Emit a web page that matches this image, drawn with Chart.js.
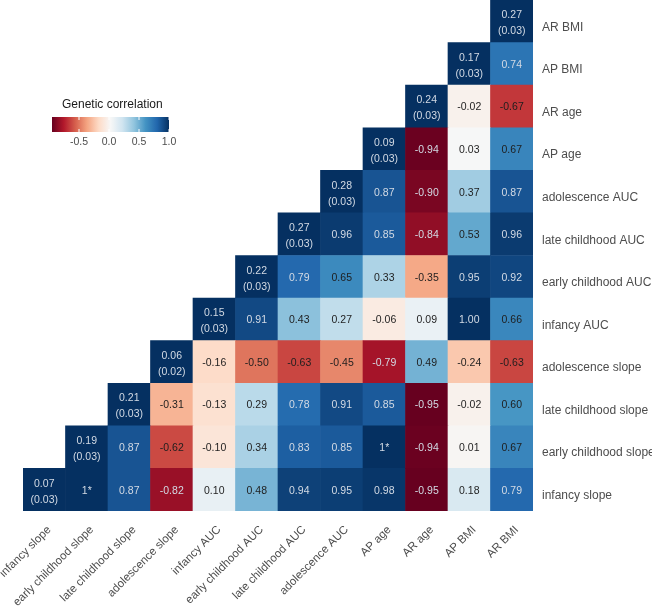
<!DOCTYPE html>
<html>
<head>
<meta charset="utf-8">
<script src="https://cdn.jsdelivr.net/npm/chart.js@4.4.1/dist/chart.umd.min.js"></script>
<style>
  html, body { margin: 0; background: #fff; }
  #wrap { width: 652px; height: 612px; }
</style>
</head>
<body>
<div id="wrap"><canvas id="rgChart"></canvas></div>
<script>
//Traits, bottom row / left column first
const traits = ['infancy slope', 'early childhood slope', 'late childhood slope', 'adolescence slope',
    'infancy AUC', 'early childhood AUC', 'late childhood AUC', 'adolescence AUC',
    'AP age', 'AR age', 'AP BMI', 'AR BMI'];

//SNP heritability (diagonal) and its SE
const h2 = [0.07, 0.19, 0.21, 0.06, 0.15, 0.22, 0.27, 0.28, 0.09, 0.24, 0.17, 0.27];
const h2_se = [0.03, 0.03, 0.03, 0.02, 0.03, 0.03, 0.03, 0.03, 0.03, 0.03, 0.03, 0.03];

//Genetic correlations, one array per row (columns in trait order)
const rg_infancySlope = [null, 1, 0.87, -0.82, 0.10, 0.48, 0.94, 0.95, 0.98, -0.95, 0.18, 0.79];
const rg_earlySlope = [null, null, 0.87, -0.62, -0.10, 0.34, 0.83, 0.85, 1, -0.94, 0.01, 0.67];
const rg_lateSlope = [null, null, null, -0.31, -0.13, 0.29, 0.78, 0.91, 0.85, -0.95, -0.02, 0.60];
const rg_adolSlope = [null, null, null, null, -0.16, -0.50, -0.63, -0.45, -0.79, 0.49, -0.24, -0.63];
const rg_infancyAUC = [null, null, null, null, null, 0.91, 0.43, 0.27, -0.06, 0.09, 1.00, 0.66];
const rg_earlyAUC = [null, null, null, null, null, null, 0.79, 0.65, 0.33, -0.35, 0.95, 0.92];
const rg_lateAUC = [null, null, null, null, null, null, null, 0.96, 0.85, -0.84, 0.53, 0.96];
const rg_adolAUC = [null, null, null, null, null, null, null, null, 0.87, -0.90, 0.37, 0.87];
const rg_APage = [null, null, null, null, null, null, null, null, null, -0.94, 0.03, 0.67];
const rg_ARage = [null, null, null, null, null, null, null, null, null, null, -0.02, -0.67];
const rg_APBMI = [null, null, null, null, null, null, null, null, null, null, null, 0.74];
const rg_ARBMI = [null, null, null, null, null, null, null, null, null, null, null, null];

//cells shown as "1*" (estimate capped at 1)
const capped = [['infancy slope', 'early childhood slope'], ['early childhood slope', 'AP age']];

//Legend ticks
const legendTicks = [-0.5, 0.0, 0.5, 1.0];

const rgRows = [rg_infancySlope, rg_earlySlope, rg_lateSlope, rg_adolSlope, rg_infancyAUC, rg_earlyAUC,
    rg_lateAUC, rg_adolAUC, rg_APage, rg_ARage, rg_APBMI, rg_ARBMI];

//RdBu palette, spread over the data range
const RdBu = ['#67001f', '#b2182b', '#d6604d', '#f4a582', '#fddbc7', '#f7f7f7',
    '#d1e5f0', '#92c5de', '#4393c3', '#2166ac', '#053061'];
const allVals = rgRows.flat().filter(v => v !== null);
const lo = Math.min(...allVals);
const hi = Math.max(...allVals);

const hexToRgb = h => [1, 3, 5].map(k => parseInt(h.substr(k, 2), 16));

function FillFor(v) {
    let t = (v - lo) / (hi - lo);
    t = Math.max(0, Math.min(1, t)) * (RdBu.length - 1);
    const k = Math.min(Math.floor(t), RdBu.length - 2);
    const f = t - k;
    const a = hexToRgb(RdBu[k]), b = hexToRgb(RdBu[k + 1]);
    const c = a.map((x, n) => Math.round(x + (b[n] - x) * f));
    return `rgb(${c[0]},${c[1]},${c[2]})`;
}

const LIGHT_TXT = '#d3dae4';
const DARK_TXT = '#1e1e1e';

//one floating-bar dataset per row
const datasets = rgRows.map((row, j) => ({
    label: traits[j],
    data: traits.map((t, i) => i >= j ? [j, j + 1] : null),
    backgroundColor: traits.map((t, i) => i === j ? FillFor(hi) : (row[i] === null ? 'transparent' : FillFor(row[i]))),
    borderWidth: 0,
    grouped: false,
    barPercentage: 1,
    categoryPercentage: 1,
}));

const cellLabels = {
    id: 'cellLabels',
    afterDatasetsDraw(chart) {
        const { ctx, scales: { x, y } } = chart;
        ctx.save();
        ctx.textAlign = 'center';
        ctx.textBaseline = 'middle';
        ctx.font = '10.5px "Liberation Sans", Arial, sans-serif';
        rgRows.forEach((row, j) => {
            traits.forEach((t, i) => {
                if (i < j) return;
                const cx = x.getPixelForValue(i);
                const cy = y.getPixelForValue(j + 0.5);
                if (i === j) {
                    ctx.fillStyle = LIGHT_TXT;
                    ctx.fillText(h2[j].toFixed(2), cx, cy - 6);
                    ctx.fillText(`(${h2_se[j].toFixed(2)})`, cx, cy + 10);
                    return;
                }
                const v = row[i];
                const isCapped = capped.some(p => p[0] === traits[j] && p[1] === t);
                ctx.fillStyle = (isCapped || Math.abs(v) >= 0.7) ? LIGHT_TXT : DARK_TXT;
                ctx.fillText(isCapped ? '1*' : v.toFixed(2), cx, cy + 1);
            });
        });
        ctx.restore();
    }
};

//colour bar legend
const colourBar = {
    id: 'colourBar',
    afterDraw(chart) {
        const ctx = chart.ctx;
        const x0 = 52, x1 = 169, y0 = 117, y1 = 132;
        const grad = ctx.createLinearGradient(x0, 0, x1, 0);
        for (let k = 0; k <= 40; k++) grad.addColorStop(k / 40, FillFor(lo + (hi - lo) * k / 40));
        ctx.save();
        ctx.fillStyle = grad;
        ctx.fillRect(x0, y0, x1 - x0, y1 - y0);

        ctx.font = '12px "Liberation Sans", Arial, sans-serif';
        ctx.fillStyle = '#1a1a1a';
        ctx.textAlign = 'left';
        ctx.textBaseline = 'middle';
        ctx.fillText('Genetic correlation', 62, 105);

        ctx.font = '10.5px "Liberation Sans", Arial, sans-serif';
        ctx.textAlign = 'center';
        legendTicks.forEach(v => {
            const px = x0 + (v - lo) / (hi - lo) * (x1 - x0);
            ctx.strokeStyle = '#ffffff';
            ctx.lineWidth = 1;
            ctx.beginPath();
            ctx.moveTo(px, y0); ctx.lineTo(px, y0 + 3);
            ctx.moveTo(px, y1 - 3); ctx.lineTo(px, y1);
            ctx.stroke();
            ctx.fillStyle = '#4d4d4d';
            ctx.fillText(v.toFixed(1), px, 142);
        });
        ctx.restore();
    }
};

Chart.defaults.font.family = '"Liberation Sans", Arial, sans-serif';

const rgChart = new Chart(document.getElementById('rgChart'), {
    type: 'bar',
    data: { labels: traits, datasets: datasets },
    options: {
        responsive: true,
        maintainAspectRatio: false,
        animation: false,
        layout: { padding: { left: 23, top: 0, right: 0, bottom: 0 } },
        plugins: { legend: { display: false }, tooltip: { enabled: false } },
        scales: {
            x: {
                type: 'category',
                grid: { display: false },
                border: { display: false },
                ticks: {
                    autoSkip: false, minRotation: 45, maxRotation: 45,
                    color: '#4d4d4d', font: { size: 11.5 }, padding: 4, labelOffset: 5
                },
                afterFit(s) { s.height = 101; s.paddingLeft = 0; s.paddingRight = 0; }
            },
            y: {
                type: 'linear',
                position: 'right',
                min: 0, max: traits.length,
                grid: { display: false, drawTicks: false },
                border: { display: false },
                afterBuildTicks(s) { s.ticks = traits.map((t, i) => ({ value: i + 0.5 })); },
                ticks: {
                    autoSkip: false, color: '#4d4d4d', font: { size: 12 }, padding: 9, labelOffset: 6,
                    callback: v => traits[Math.floor(v)]
                },
                afterFit(s) { s.width = 119; s.paddingTop = 0; s.paddingBottom = 0; }
            }
        }
    },
    plugins: [cellLabels, colourBar]
});
</script>
</body>
</html>
